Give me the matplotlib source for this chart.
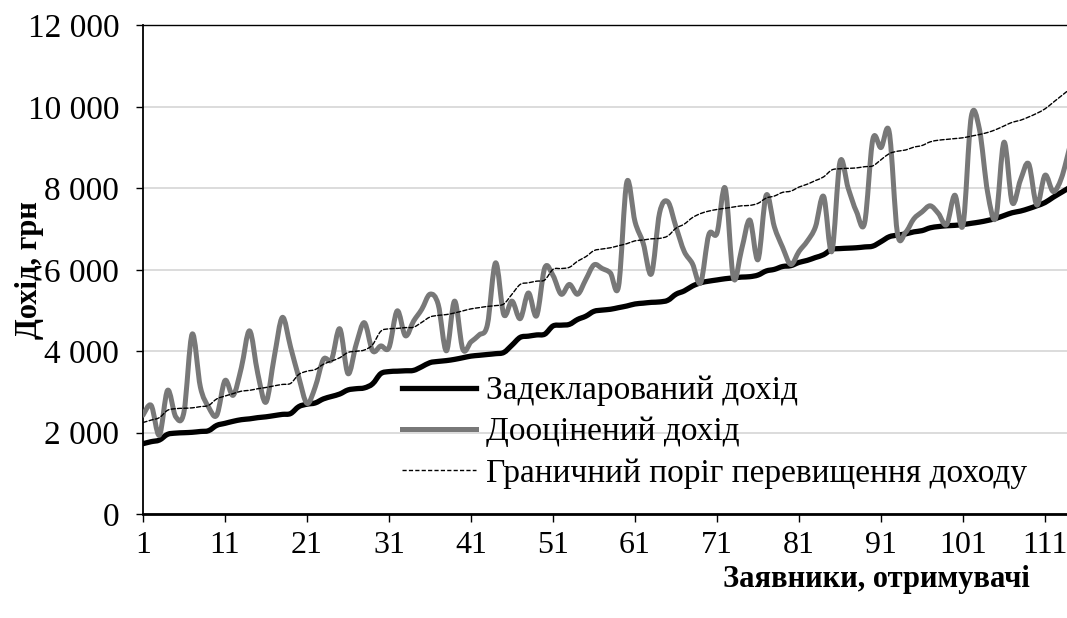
import matplotlib
matplotlib.use("Agg")
import matplotlib.pyplot as plt
from matplotlib.path import Path
from matplotlib.patches import PathPatch
from matplotlib.lines import Line2D
from matplotlib.ticker import FuncFormatter, MultipleLocator
import numpy as np

plt.rcParams['font.family'] = ['Liberation Serif', 'DejaVu Serif']

# applicant index 1..114
applicants = list(range(1, 115))

# declared income, UAH
declared = [1730, 1780, 1820, 1960, 1990, 2000, 2010, 2030, 2050, 2180,
            2230, 2280, 2320, 2340, 2370, 2390, 2420, 2450, 2470, 2640,
            2700, 2730, 2830, 2890, 2950, 3050, 3080, 3100, 3200, 3450,
            3500, 3510, 3520, 3530, 3620, 3720, 3750, 3770, 3800, 3840,
            3880, 3900, 3920, 3940, 3970, 4150, 4340, 4370, 4400, 4420,
            4620, 4640, 4660, 4780, 4860, 4980, 5010, 5030, 5070, 5110,
            5160, 5180, 5200, 5210, 5250, 5400, 5480, 5600, 5680, 5720,
            5750, 5780, 5800, 5820, 5830, 5870, 5970, 6010, 6080, 6100,
            6180, 6230, 6300, 6370, 6500, 6520, 6530, 6540, 6560, 6580,
            6690, 6810, 6850, 6880, 6930, 6960, 7030, 7060, 7080, 7090,
            7110, 7140, 7170, 7210, 7260, 7330, 7400, 7440, 7500, 7570,
            7650, 7780, 7900, 8020]

# re-assessed income, UAH
assessed = [2430, 2670, 1940, 3040, 2390, 2510, 4420, 3120, 2630, 2430,
            3280, 2920, 3600, 4500, 3450, 2750, 3850, 4830, 4100, 3360,
            2720, 3120, 3800, 3800, 4550, 3450, 4170, 4700, 4010, 4130,
            4090, 4990, 4380, 4740, 5030, 5400, 5150, 4010, 5230, 4050,
            4230, 4400, 4650, 6170, 4900, 5230, 4800, 5430, 4870, 6050,
            5860, 5400, 5640, 5400, 5760, 6120, 6030, 5920, 5600, 8150,
            7180, 6650, 5900, 7400, 7670, 7050, 6450, 6150, 5680, 6860,
            6900, 8000, 5800, 6500, 7220, 6250, 7830, 7050, 6550, 6130,
            6450, 6700, 7050, 7800, 6450, 8650, 8000, 7430, 7150, 9200,
            9000, 9380, 6900, 6920, 7250, 7420, 7570, 7380, 7110, 7830,
            7100, 9750, 9450, 7900, 7280, 9130, 7650, 8200, 8600, 7590,
            8320, 7920, 8250, 9000]

# income excess threshold, UAH
threshold = [2250, 2310, 2370, 2550, 2590, 2600, 2610, 2640, 2670, 2830,
             2900, 2960, 3020, 3040, 3080, 3110, 3150, 3185, 3210, 3430,
             3510, 3550, 3680, 3760, 3840, 3970, 4000, 4030, 4160, 4490,
             4550, 4560, 4580, 4590, 4710, 4840, 4880, 4900, 4940, 4990,
             5040, 5070, 5100, 5120, 5160, 5400, 5640, 5680, 5720, 5750,
             6010, 6030, 6060, 6210, 6320, 6470, 6510, 6540, 6590, 6640,
             6710, 6730, 6760, 6770, 6830, 7020, 7120, 7280, 7380, 7440,
             7480, 7510, 7540, 7570, 7580, 7630, 7760, 7810, 7900, 7930,
             8030, 8100, 8190, 8280, 8450, 8480, 8490, 8500, 8530, 8550,
             8700, 8850, 8910, 8940, 9010, 9050, 9140, 9180, 9200, 9220,
             9240, 9280, 9320, 9370, 9440, 9530, 9620, 9670, 9750, 9840,
             9950, 10110, 10270, 10430]

labels = ['Задекларований дохід', 'Дооцінений дохід',
          'Граничний поріг перевищення доходу']


def smooth_path(x, y):
    """bezier path through the points, like a smoothed spreadsheet line"""
    x = np.asarray(x, float)
    y = np.asarray(y, float)
    px = np.concatenate([[x[0]], x, [x[-1]]])
    py = np.concatenate([[y[0]], y, [y[-1]]])
    verts = [(x[0], y[0])]
    codes = [Path.MOVETO]
    for i in range(1, len(px) - 2):
        c1 = (px[i] + (px[i + 1] - px[i - 1]) / 6, py[i] + (py[i + 1] - py[i - 1]) / 6)
        c2 = (px[i + 1] - (px[i + 2] - px[i]) / 6, py[i + 1] - (py[i + 2] - py[i]) / 6)
        verts += [c1, c2, (px[i + 1], py[i + 1])]
        codes += [Path.CURVE4] * 3
    return Path(verts, codes)


fig = plt.figure(figsize=(10.67, 6.18), dpi=100)
ax = fig.add_axes([0.134, 0.168, 0.866, 0.791])

styles = [dict(color='black', lw=3.8, ls='-'),
          dict(color='#787878', lw=3.6, ls='-'),
          dict(color='black', lw=1.0, ls=(0, (3, 1.6)))]

handles = []
for series, st, lab in zip([declared, assessed, threshold], styles, labels):
    patch = PathPatch(smooth_path(applicants, series), fill=False,
                      edgecolor=st['color'], lw=st['lw'], ls=st['ls'],
                      capstyle='round', joinstyle='round', zorder=3)
    ax.add_patch(patch)
    handles.append(Line2D([], [], color=st['color'], lw=st['lw'], ls=st['ls']))

ax.set_xlim(1, 113.68)
ax.set_ylim(0, 12000)
ax.yaxis.set_major_locator(MultipleLocator(2000))
ax.yaxis.set_major_formatter(FuncFormatter(lambda v, p: '{:,.0f}'.format(v).replace(',', ' ')))
ax.set_xticks(list(range(1, 114, 10)))

ax.grid(axis='y', color='#d9d9d9', lw=1.3)
ax.set_axisbelow(True)

ax.spines['right'].set_visible(False)
ax.spines['top'].set_linewidth(1.0)
ax.spines['left'].set_linewidth(1.3)
ax.spines['bottom'].set_linewidth(2.0)

ax.tick_params(axis='y', direction='out', length=5, width=1.0, pad=12, labelsize=24)
ax.tick_params(axis='x', direction='out', length=6, width=1.0, pad=6, labelsize=23)

leg = ax.legend(handles, labels, loc='upper left', bbox_to_anchor=(0.377, 0.392),
                bbox_transform=fig.transFigure, frameon=False, fontsize=24,
                handlelength=2.2, handletextpad=0.3, labelspacing=0.32,
                borderaxespad=0, borderpad=0)

fig.text(0.028, 0.563, 'Дохід, грн', rotation=90, ha='center', va='center',
         fontsize=22, fontweight='bold')
fig.text(0.821, 0.062, 'Заявники, отримувачі', ha='center', va='center',
         fontsize=22, fontweight='bold')

fig.savefig('out.png', dpi=100)
